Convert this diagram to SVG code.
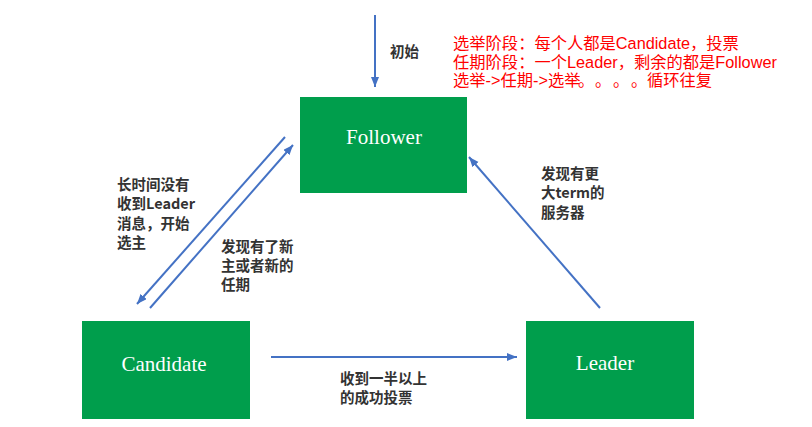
<svg xmlns="http://www.w3.org/2000/svg" width="812" height="427" viewBox="0 0 812 427">
<style>
.node{fill:#009E4C;}
.ntext{fill:#ffffff;font-family:"Liberation Serif",serif;font-size:21px;text-anchor:middle;}
.conn{stroke:#4472C4;stroke-width:2;fill:none;marker-end:url(#ah);}
.lbl{fill:#333333;font-family:"Noto Sans CJK SC","Noto Sans",sans-serif;font-size:14.5px;font-weight:600;}
.note{fill:#ff0000;font-family:"Liberation Sans","Noto Sans CJK SC",sans-serif;font-size:16.3px;}
.cjk{font-family:"Noto Sans CJK SC",sans-serif;}
</style>
<defs>
<marker id="ah" markerUnits="userSpaceOnUse" markerWidth="12" markerHeight="10" refX="10" refY="4" orient="auto">
<path d="M0,0 L10,4 L0,8 Z" fill="#4472C4"/>
</marker>
</defs>
<rect width="812" height="427" fill="#ffffff"/>
<g id="connectors">
<line class="conn" x1="375" y1="15" x2="375" y2="87"/>
<line class="conn" x1="285" y1="137" x2="137" y2="304"/>
<line class="conn" x1="150" y1="308" x2="293" y2="145"/>
<line class="conn" x1="271" y1="357" x2="517" y2="357"/>
<line class="conn" x1="600" y1="308" x2="469" y2="157"/>
</g>
<g id="labels">
<text class="lbl" x="390" y="57">初始</text>
<text class="lbl" x="117" y="190">长时间没有</text>
<text class="lbl" x="117" y="209">收到Leader</text>
<text class="lbl" x="117" y="229">消息，开始</text>
<text class="lbl" x="117" y="248">选主</text>
<text class="lbl" x="221" y="252">发现有了新</text>
<text class="lbl" x="221" y="271">主或者新的</text>
<text class="lbl" x="221" y="290">任期</text>
<text class="lbl" x="340" y="384">收到一半以上</text>
<text class="lbl" x="340" y="403">的成功投票</text>
<text class="lbl" x="541" y="179">发现有更</text>
<text class="lbl" x="541" y="198">大term的</text>
<text class="lbl" x="541" y="218">服务器</text>
</g>
<g id="note">
<text class="note" x="453" y="49">选举阶段：每个人都是Candidate，投票</text>
<text class="note" x="453" y="68">任期阶段：一个Leader，剩余的都是Follower</text>
<text class="note" x="453" y="86">选举-&gt;任期-&gt;选举<tspan class="cjk" x="578">。</tspan><tspan class="cjk" x="595">。</tspan><tspan class="cjk" x="613">。</tspan><tspan class="cjk" x="631">。</tspan><tspan x="647">循环往复</tspan></text>
</g>
<g id="follower">
<rect class="node" x="300" y="97" width="167" height="96"/>
<text class="ntext" x="384" y="144">Follower</text>
</g>
<g id="candidate">
<rect class="node" x="82" y="321" width="168" height="98"/>
<text class="ntext" x="164" y="371">Candidate</text>
</g>
<g id="leader">
<rect class="node" x="526" y="321" width="168" height="98"/>
<text class="ntext" x="605" y="370">Leader</text>
</g>
</svg>
